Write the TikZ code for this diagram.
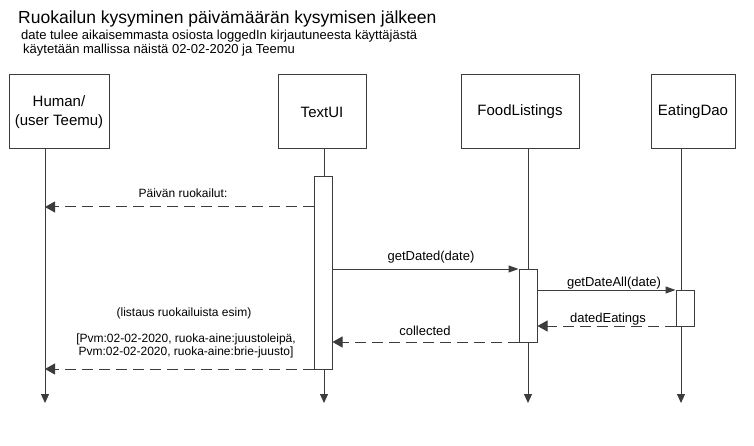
\documentclass[tikz,border=0pt]{standalone}
\usepackage{fontspec}
\setmainfont{Liberation Sans}
\usetikzlibrary{arrows.meta}
\definecolor{ln}{RGB}{60,60,60}
\begin{document}
\begin{tikzpicture}[x=1pt,y=-1pt,
  obj/.style={draw=ln,line width=1pt,fill=white,minimum height=74pt,inner sep=0pt,font=\fontsize{15}{19}\selectfont,align=center},
  act/.style={draw=ln,line width=1pt,fill=white,minimum width=18pt,inner sep=0pt},
  life/.style={draw=ln,line width=1pt,-{Triangle[length=9pt,width=8pt]}},
  call/.style={draw=ln,line width=1pt,-{Triangle[length=10pt,width=7pt]}},
  ret/.style={draw=ln,line width=1pt,dash pattern=on 11pt off 6pt,-{Triangle[length=10pt,width=11pt]}},
  msgA/.style={font=\fontsize{12}{13}\selectfont,inner sep=0pt,align=center},
  msgB/.style={font=\fontsize{13}{15}\selectfont,inner sep=0pt},
  ttl/.style={anchor=base west,inner sep=0pt},
]
\useasboundingbox (0,0) rectangle (754,446);
\fill[white] (0,0) rectangle (754,446);

% title
\node[ttl,font=\fontsize{17.5}{20}\selectfont] (t1) at (18,24) {Ruokailun kysyminen päivämäärän kysymisen jälkeen};
\node[ttl,font=\fontsize{13}{15}\selectfont] (t2) at (21,40) {date tulee aikaisemmasta osiosta loggedIn kirjautuneesta käyttäjästä};
\node[ttl,font=\fontsize{13}{15}\selectfont] (t3) at (23,54) {käytetään mallissa näistä 02-02-2020 ja Teemu};

% objects
\node[obj,minimum width=100pt] (hum) at (59,112) {Human/\\(user Teemu)};
\node[obj,minimum width=88pt] (ui) at (322,112) {TextUI};
\node[obj,minimum width=118pt] (fl) at (520,112) {FoodListings};
\node[obj,minimum width=84pt] (dao) at (693,112) {EatingDao};

% lifelines
\coordinate (hT) at (45,149);  \coordinate (hE) at (45,403);
\coordinate (uT) at (324,149); \coordinate (uE) at (324,403);
\coordinate (fT) at (528,149); \coordinate (fE) at (528,403);
\coordinate (dT) at (681,149); \coordinate (dE) at (681,403);
\draw[life] (hT) -- (hE);
\draw[life] (uT) -- (uE);
\draw[life] (fT) -- (fE);
\draw[life] (dT) -- (dE);

% activations
\node[act,minimum height=192pt] (a1) at (323,273) {};
\node[act,minimum height=73pt] (a2) at (528,305.5) {};
\node[act,minimum height=36pt] (a3) at (685,308) {};

% message levels
\coordinate (m1) at (0,207);
\coordinate (m2) at (0,269);
\coordinate (m3) at (0,290);
\coordinate (m4) at (0,326);
\coordinate (m5) at (0,342);
\coordinate (m6) at (0,369);

\draw[ret] (a1.west |- m1) -- (hT |- m1);
\draw[call] (a1.east |- m2) -- (a2.west |- m2);
\draw[call] (a2.east |- m3) -- (a3.west |- m3);
\draw[ret] (a3.west |- m4) -- (a2.east |- m4);
\draw[ret] (a2.west |- m5) -- (a1.east |- m5);
\draw[ret] (a1.west |- m6) -- (hT |- m6);

% labels
\node[msgA] (l1) at (183,193) {Päivän ruokailut:};
\node[msgB] (l2) at (431,257) {getDated(date)};
\node[msgB] (l3) at (614,283) {getDateAll(date)};
\node[msgB] (l4) at (608,319) {datedEatings};
\node[msgB] (l5) at (425,331) {collected};
\node[msgA] (l6) at (184,313) {(listaus ruokailuista esim)};
\node[msgA] (l7) at (186,346) {[Pvm:02-02-2020, ruoka-aine:juustoleipä,\\Pvm:02-02-2020, ruoka-aine:brie-juusto]};
\end{tikzpicture}
\end{document}
